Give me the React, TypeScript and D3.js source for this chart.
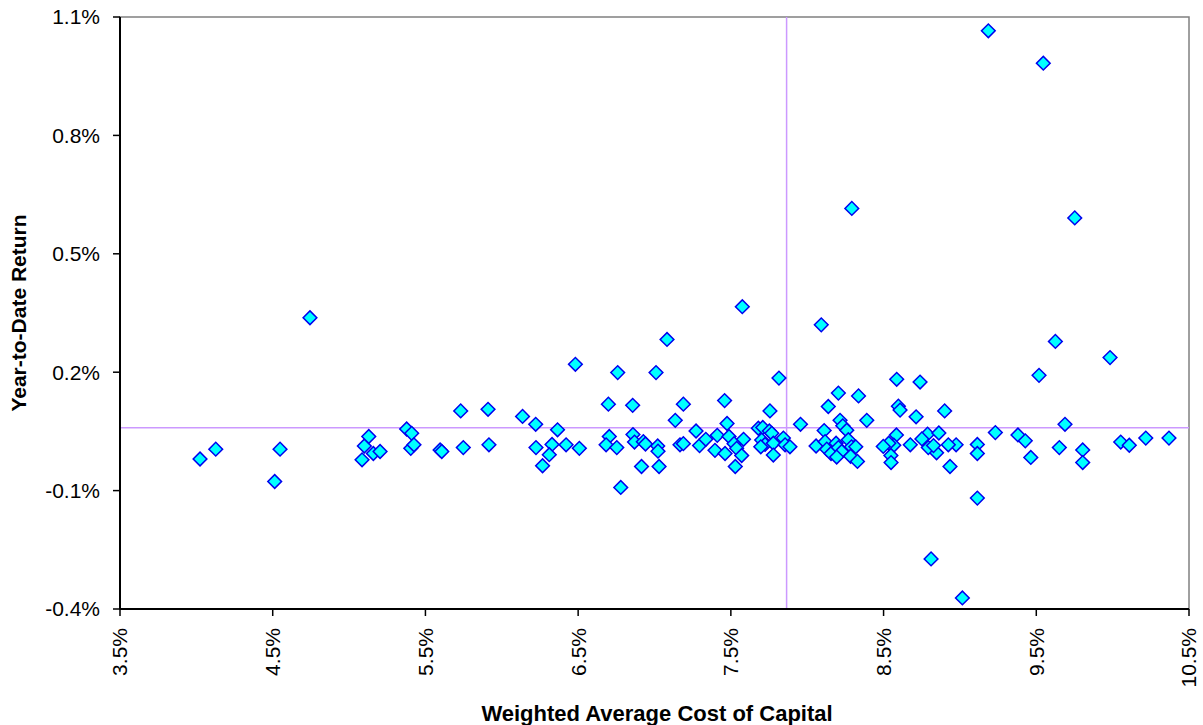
import React, { useEffect } from "react";
import * as d3 from "d3";

// WACC (%) for each company
const wacc = [
  4.024, 4.127, 4.513, 4.548, 4.744, 5.085, 5.1, 5.129, 5.159, 5.203,
  5.377, 5.41, 5.404, 5.425, 5.596, 5.607, 5.731, 5.748, 5.91, 5.916,
  6.136, 6.222, 6.365, 6.224, 6.329, 6.311, 6.267, 6.421, 6.508, 6.482,
  6.698, 6.759, 6.704, 6.683, 6.753, 6.779, 6.857, 6.859, 6.869, 6.927,
  6.941, 6.915, 7.01, 7.082, 7.021, 7.023, 7.03, 7.136, 7.189, 7.167,
  7.189, 7.272, 7.295, 7.336, 7.396, 7.411, 7.459, 7.475, 7.488, 7.462,
  7.521, 7.538, 7.529, 7.583, 7.571, 7.575, 7.756, 7.815, 7.68, 7.709,
  7.752, 7.768, 7.702, 7.724, 7.778, 7.844, 7.855, 7.887, 7.696, 7.778,
  7.956, 8.058, 8.292, 8.092, 9.752, 9.625, 9.983, 9.518, 8.586, 8.739,
  8.204, 8.336, 8.138, 8.597, 8.608, 8.713, 8.9, 8.39, 8.215, 9.688,
  8.233, 8.111, 8.259, 8.584, 8.788, 8.862, 8.751, 9.232, 9.38, 9.428,
  10.053, 10.109, 10.217, 10.369, 9.114, 9.114, 9.651, 9.804, 9.804, 9.464,
  8.935, 8.975, 8.924, 8.847, 8.793, 8.827, 8.675, 8.567, 8.534, 8.498,
  8.548, 8.549, 8.117, 8.128, 8.156, 8.189, 8.204, 8.226, 8.193, 8.269,
  8.29, 8.318, 8.284, 8.329, 9.114, 8.811, 9.016, 9.186, 9.546,
];

// year-to-date return (%) for the same companies
const ytdReturn = [
  -0.02, 0.005, -0.077, 0.005, 0.338, -0.022, 0.013, 0.037, -0.006, -0.001,
  0.056, 0.045, 0.007, 0.016, 0.003, -0.001, 0.102, 0.009, 0.106, 0.016,
  0.088, 0.068, 0.054, 0.009, 0.017, -0.009, -0.037, 0.016, 0.007, 0.22,
  0.119, 0.199, 0.037, 0.016, 0.009, -0.092, 0.116, 0.042, 0.023, 0.024,
  0.018, -0.039, 0.199, 0.283, 0.013, 0.0, -0.039, 0.078, 0.119, 0.016,
  0.019, 0.051, 0.014, 0.03, 0.002, 0.04, 0.128, 0.07, 0.037, -0.006,
  0.019, 0.007, -0.039, 0.03, -0.011, 0.366, 0.102, 0.185, 0.058, 0.06,
  0.051, 0.045, 0.028, 0.017, 0.02, 0.033, 0.016, 0.011, 0.011, -0.01,
  0.068, 0.013, 0.615, 0.32, 0.591, 0.278, 0.237, 0.192, 0.182, 0.175,
  0.147, 0.14, 0.113, 0.114, 0.104, 0.087, 0.102, 0.078, 0.078, 0.068,
  0.064, 0.052, 0.053, 0.041, 0.043, 0.046, 0.031, 0.047, 0.041, 0.026,
  0.023, 0.015, 0.033, 0.033, 0.017, -0.006, 0.009, 0.003, -0.029, -0.016,
  -0.039, 0.016, 0.016, -0.004, 0.009, 0.014, 0.016, 0.015, 0.02, 0.012,
  -0.011, -0.029, 0.024, 0.005, -0.006, 0.02, 0.009, -0.001, -0.015, 0.029,
  0.011, 0.011, -0.013, -0.026, -0.119, -0.273, -0.372, 1.065, 0.983,
];

const xTicks = [3.5, 4.5, 5.5, 6.5, 7.5, 8.5, 9.5, 10.5];
const yTicks = [-0.4, -0.1, 0.2, 0.5, 0.8, 1.1];

// averages shown as cross lines
const avgWacc = 7.865;
const avgReturn = 0.059;

const font = "'Liberation Sans', Arial, sans-serif";

export default function App() {
  useEffect(() => {
    document.body.style.margin = "0";
  }, []);

  const width = 1203;
  const height = 725;
  const margin = { top: 17, right: 14, bottom: 116, left: 120 };

  const x = d3
    .scaleLinear()
    .domain([3.5, 10.5])
    .range([margin.left, width - margin.right]);
  const y = d3
    .scaleLinear()
    .domain([-0.4, 1.1])
    .range([height - margin.bottom, margin.top]);

  const diamond = d3.symbol().type(d3.symbolSquare).size(94)();
  const fmt = (v: number) => v.toFixed(1) + "%";

  const points = wacc.map((w, i) => ({ w, r: ytdReturn[i] }));

  return (
    <svg width={width} height={height} style={{ display: "block" }} fontFamily={font}>
      {/* plot frame */}
      <rect
        x={x(3.5)}
        y={y(1.1)}
        width={x(10.5) - x(3.5)}
        height={y(-0.4) - y(1.1)}
        fill="white"
        stroke="#808080"
        strokeWidth={1.5}
      />

      {/* average lines */}
      <line x1={x(avgWacc)} x2={x(avgWacc)} y1={y(1.1)} y2={y(-0.4)} stroke="#CC99FF" strokeWidth={1.5} />
      <line x1={x(3.5)} x2={x(10.5)} y1={y(avgReturn)} y2={y(avgReturn)} stroke="#CC99FF" strokeWidth={1.5} />

      {/* axes */}
      <line x1={x(3.5)} x2={x(3.5)} y1={y(1.1)} y2={y(-0.4)} stroke="black" strokeWidth={2} />
      <line x1={x(3.5)} x2={x(10.5)} y1={y(-0.4)} y2={y(-0.4)} stroke="black" strokeWidth={2} />

      {yTicks.map((t) => (
        <g key={"y" + t}>
          <line x1={x(3.5) - 7} x2={x(3.5)} y1={y(t)} y2={y(t)} stroke="black" strokeWidth={1.5} />
          <text x={x(3.5) - 20} y={y(t)} dy="0.35em" textAnchor="end" fontSize={21}>
            {fmt(t)}
          </text>
        </g>
      ))}

      {xTicks.map((t) => (
        <g key={"x" + t}>
          <line x1={x(t)} x2={x(t)} y1={y(-0.4)} y2={y(-0.4) + 7} stroke="black" strokeWidth={1.5} />
          <text
            transform={`translate(${x(t)},${y(-0.4) + 19}) rotate(-90)`}
            dy="0.35em"
            textAnchor="end"
            fontSize={21}
          >
            {fmt(t)}
          </text>
        </g>
      ))}

      {/* markers */}
      {points.map((p, i) => (
        <path
          key={i}
          d={diamond}
          transform={`translate(${x(p.w)},${y(p.r)}) rotate(45)`}
          fill="#00FFFF"
          stroke="#0000EE"
          strokeWidth={1.5}
        />
      ))}

      {/* axis titles */}
      <text x={657} y={721} textAnchor="middle" fontSize={22} fontWeight="bold">
        Weighted Average Cost of Capital
      </text>
      <text
        transform={`translate(26,${(y(1.1) + y(-0.4)) / 2}) rotate(-90)`}
        textAnchor="middle"
        fontSize={21}
        fontWeight="bold"
      >
        Year-to-Date Return
      </text>
    </svg>
  );
}
